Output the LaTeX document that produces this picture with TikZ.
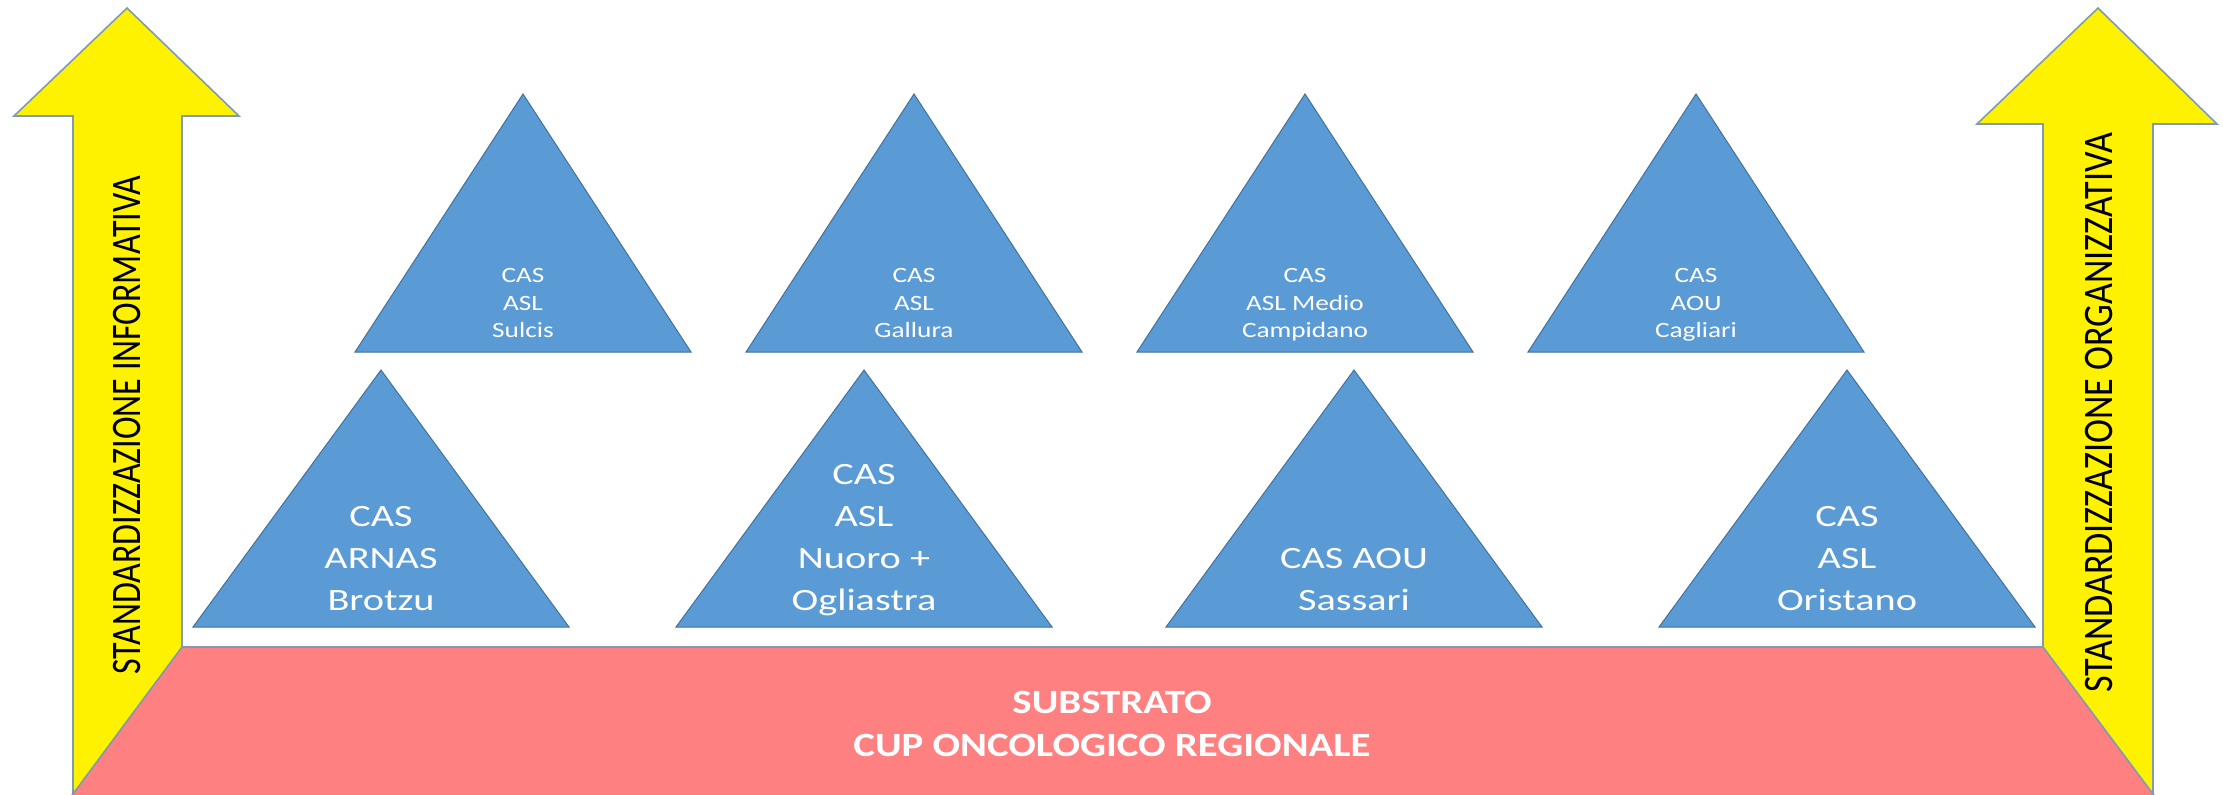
\documentclass[tikz,border=0pt]{standalone}
\usepackage{fontspec}
\setmainfont{Carlito}
\newfontfamily\casfont[FakeStretch=1.3]{Carlito}
\newfontfamily\cassmallfont[FakeStretch=1.25]{Carlito}
\newfontfamily\cupfont[FakeStretch=1.2]{Carlito}
\newfontfamily\arrowfont[FakeStretch=0.81]{Carlito}
\newfontfamily\arrowwidefont[FakeStretch=0.86]{Carlito}
\definecolor{casblue}{HTML}{5B9BD5}
\definecolor{casedge}{HTML}{41719C}
\definecolor{cuppink}{HTML}{FF8080}
\definecolor{arrowedge}{HTML}{7F9AB5}

\begin{document}
\begin{tikzpicture}[x=0.5pt, y=-0.5pt,
  stdarrow/.style={fill=yellow, draw=arrowedge, line width=0.8pt},
  tri/.style={fill=casblue, draw=casedge, line width=0.5pt},
  bigcas/.style={text=white, align=center, anchor=south, inner sep=0pt, text depth=0pt,
    font=\casfont\fontsize{15.5}{21}\selectfont},
  smallcas/.style={text=white, align=center, anchor=south, inner sep=0pt, text depth=0pt,
    font=\cassmallfont\fontsize{10.9}{13.75}\selectfont},
  stdlabel/.style={rotate=90, inner sep=0pt, font=\arrowfont\fontsize{21}{25}\selectfont}]
  \useasboundingbox (0, 0) rectangle (2223, 794);

  % standardization arrows
  \filldraw[stdarrow] (73, 800) -- (73, 116) -- (14, 116) -- (127, 8) -- (239, 116)
    -- (182, 116) -- (182, 800) -- cycle;
  \filldraw[stdarrow] (2043, 800) -- (2043, 124) -- (1977, 124) -- (2098, 8) -- (2217, 124)
    -- (2153, 124) -- (2153, 800) -- cycle;

  % substrate
  \filldraw[fill=cuppink, draw=arrowedge, line width=0.8pt]
    (68.5, 800) -- (182, 647) -- (2043, 647) -- (2157.5, 800) -- cycle;
  \node[text=white, align=center, anchor=south, inner sep=0pt, text depth=0pt,
    font=\cupfont\bfseries\fontsize{17}{21.5}\selectfont] (cup) at (1112, 757)
    {SUBSTRATO\\CUP ONCOLOGICO REGIONALE};

  \node[stdlabel] (info) at (127.5, 425) {STANDARDIZZAZIONE INFORMATIVA};
  \node[stdlabel, font=\arrowwidefont\fontsize{21}{25}\selectfont] (org) at (2099, 413)
    {STANDARDIZZAZIONE ORGANIZZATIVA};

  % upper row
  \filldraw[tri] (355, 352) -- (523, 94) -- (691, 352) -- cycle;
  \filldraw[tri] (746, 352) -- (914, 94) -- (1082, 352) -- cycle;
  \filldraw[tri] (1137, 352) -- (1305, 94) -- (1473, 352) -- cycle;
  \filldraw[tri] (1528, 352) -- (1696, 94) -- (1864, 352) -- cycle;
  \node[smallcas] (sulcis) at (523, 338) {CAS\\ASL\\Sulcis};
  \node[smallcas] (gallura) at (914, 338) {CAS\\ASL\\Gallura};
  \node[smallcas] (campidano) at (1305, 338) {CAS\\ASL Medio\\Campidano};
  \node[smallcas] (cagliari) at (1696, 338) {CAS\\AOU\\Cagliari};

  % lower row
  \filldraw[tri] (193, 627) -- (381, 370) -- (569, 627) -- cycle;
  \filldraw[tri] (676, 627) -- (864, 370) -- (1052, 627) -- cycle;
  \filldraw[tri] (1166, 627) -- (1354, 370) -- (1542, 627) -- cycle;
  \filldraw[tri] (1659, 627) -- (1847, 370) -- (2035, 627) -- cycle;
  \node[bigcas] (brotzu) at (381, 611) {CAS\\ARNAS\\Brotzu};
  \node[bigcas] (nuoro) at (864, 611) {CAS\\ASL\\Nuoro +\\Ogliastra};
  \node[bigcas] (sassari) at (1354, 611) {CAS AOU\\Sassari};
  \node[bigcas] (oristano) at (1847, 611) {CAS\\ASL\\Oristano};
\end{tikzpicture}
\end{document}
